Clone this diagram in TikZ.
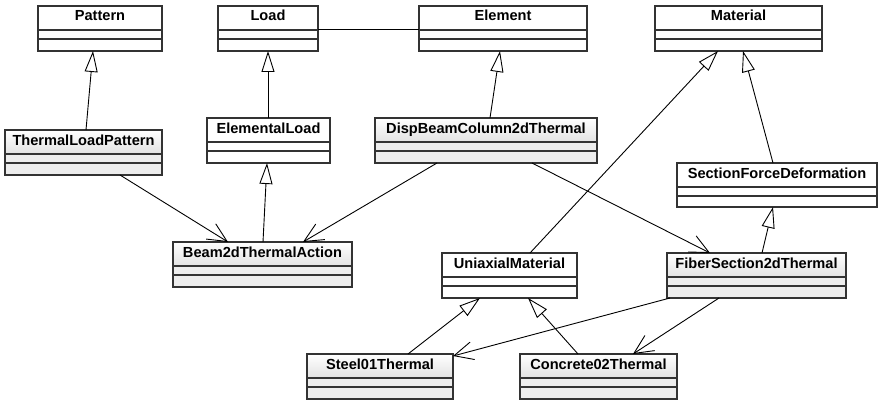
\documentclass[tikz,border=0pt]{standalone}
\usepackage{fontspec}
\setmainfont{Liberation Sans}
\usetikzlibrary{arrows.meta,calc}
\definecolor{boxc}{HTML}{333333}
\definecolor{shadec}{HTML}{E2E2E2}
\definecolor{compc}{HTML}{EDEDED}
\tikzset{
  boxline/.style={draw=boxc,line width=1.1pt},
  clstitle/.style={anchor=base,inner sep=0pt,font=\fontsize{14.6}{16}\selectfont\bfseries},
  inherit/.style={draw=black,line width=0.9pt,-{Triangle[open,length=21pt,width=13pt,fill=white,line width=0.9pt]}},
  assoc/.style={draw=black,line width=0.9pt,-{Straight Barb[length=19pt,width=18pt,line width=0.9pt]}},
  plainline/.style={draw=black,line width=0.9pt},
}
\newcommand\clsbody[5]{%
  \node[anchor=north west,minimum width=#4pt,minimum height=#5pt,inner sep=0pt,outer sep=0pt] (#1) at (#2,#3) {};}
\newcommand\clslines[2]{%
  \draw[boxline] (#1.north west) rectangle (#1.south east);
  \draw[boxline] ([yshift=-24pt]#1.north west) -- ([yshift=-24pt]#1.north east);
  \draw[boxline] ([yshift=-33pt]#1.north west) -- ([yshift=-33pt]#1.north east);
  \node[clstitle] at ([yshift=-15pt]#1.north) {#2};}
\newcommand\plaincls[6]{%
  \clsbody{#1}{#2}{#3}{#4}{#5}%
  \fill[white] (#1.north west) rectangle (#1.south east);
  \clslines{#1}{#6}}
\newcommand\gradcls[6]{%
  \clsbody{#1}{#2}{#3}{#4}{#5}%
  \shade[top color=white,bottom color=shadec] (#1.north west) rectangle ([yshift=-24pt]#1.north east);
  \fill[compc] ([yshift=-24pt]#1.north west) rectangle (#1.south east);
  \clslines{#1}{#6}}
\begin{document}
\begin{tikzpicture}[x=1pt,y=-1pt]
\useasboundingbox[fill=white] (0,0) rectangle (880,401);
% classes
\plaincls{pattern}{38}{6}{124}{45}{Pattern}
\plaincls{load}{218}{6}{100}{45}{Load}
\plaincls{element}{419}{6}{168}{45}{Element}
\plaincls{material}{655}{6}{167}{45}{Material}
\gradcls{tlp}{5}{130}{157}{45}{ThermalLoadPattern}
\plaincls{eload}{207}{118}{123}{45}{ElementalLoad}
\gradcls{disp}{375}{118}{222}{45}{DispBeamColumn2dThermal}
\plaincls{sfd}{677}{163}{200}{44}{SectionForceDeformation}
\gradcls{b2d}{173}{242}{179}{45}{Beam2dThermalAction}
\plaincls{umat}{442}{253}{135}{45}{UniaxialMaterial}
\gradcls{fiber}{667}{253}{179}{45}{FiberSection2dThermal}
\gradcls{steel}{307}{354}{146}{45}{Steel01Thermal}
\gradcls{conc}{520}{354}{157}{45}{Concrete02Thermal}
% generalizations
\draw[inherit] ([xshift=81pt]tlp.north west) -- ([xshift=55pt]pattern.south west);
\draw[inherit] ([xshift=61pt]eload.north west) -- ([xshift=50pt]load.south west);
\draw[inherit] ([xshift=115pt]disp.north west) -- ([xshift=81pt]element.south west);
\draw[inherit] ([xshift=90pt]b2d.north west) -- ([xshift=60pt]eload.south west);
\draw[inherit] ([xshift=88pt]umat.north west) -- ([xshift=63pt]material.south west);
\draw[inherit] ([xshift=96pt]sfd.north west) -- ([xshift=88pt]material.south west);
\draw[inherit] ([xshift=95pt]fiber.north west) -- ([xshift=96pt]sfd.south west);
\draw[inherit] ([xshift=101pt]steel.north west) -- ([xshift=38pt]umat.south west);
\draw[inherit] ([xshift=58pt]conc.north west) -- ([xshift=86pt]umat.south west);
% associations
\draw[plainline] ([yshift=-23pt]load.north east) -- ([yshift=-23pt]element.north west);
\draw[assoc] ([xshift=115pt]tlp.south west) -- ([xshift=55pt]b2d.north west);
\draw[assoc] ([xshift=62pt]disp.south west) -- ([xshift=130pt]b2d.north west);
\draw[assoc] ([xshift=157pt]disp.south west) -- ([xshift=43pt]fiber.north west);
\draw[assoc] ([xshift=3pt]fiber.south west) -- ([yshift=-2pt]steel.north east);
\draw[assoc] ([xshift=52pt]fiber.south west) -- ([xshift=113pt]conc.north west);
\end{tikzpicture}
\end{document}
